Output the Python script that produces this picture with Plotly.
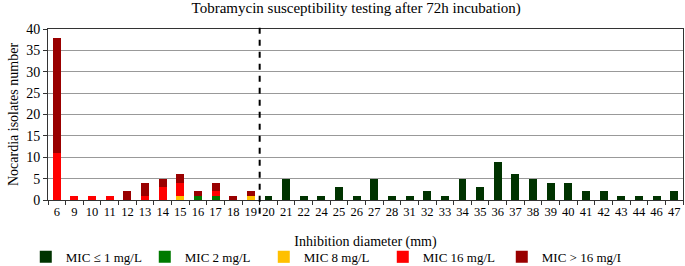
import plotly.graph_objects as go

diameters = ["6","9","10","11","12","13","14","15","16","17","18","19","20","21","22","24","25","26","27","28",
             "31","32","33","34","35","36","37","38","39","40","41","42","43","44","46","47"]
mic_le1 = [0,0,0,0,0,0,0,0,0,0,0,0, 1,5,1,1,3,1,5,1,1,2,1,5,3,9,6,5,4,4,2,2,1,1,1,2]
mic_2   = [0,0,0,0,0,0,0,0,1,1,0,0] + [0]*24
mic_8   = [0,0,0,0,0,0,0,1,0,0,0,1] + [0]*24
mic_16  = [11,1,1,1,0,1,3,3,0,1,0,0] + [0]*24
mic_gt16= [27,0,0,0,2,3,2,2,1,2,1,1] + [0]*24

series = [
    ("MIC \u2264 1 mg/L", mic_le1, "#003300"),
    ("MIC 2 mg/L", mic_2, "#007A00"),
    ("MIC 8 mg/L", mic_8, "#FFC000"),
    ("MIC 16 mg/L", mic_16, "#FF0000"),
    ("MIC > 16 mg/L", mic_gt16, "#990000"),
]

fig = go.Figure()
for name, vals, col in series:
    fig.add_trace(go.Bar(x=diameters, y=vals, name=name, marker=dict(color=col, line=dict(width=0))))

font = "Liberation Serif"
fig.update_layout(
    barmode="stack",
    bargap=0.55,
    width=685, height=266,
    margin=dict(l=48, r=2, t=29, b=66, autoexpand=False),
    plot_bgcolor="white", paper_bgcolor="white",
    font=dict(family=font, size=13, color="black"),
    title=dict(text="Tobramycin susceptibility testing after 72h incubation)", x=0.52, xanchor="center",
               y=0.97, yanchor="middle", font=dict(family=font, size=15)),
    legend=dict(orientation="h", x=-0.035, y=-0.245, xanchor="left", yanchor="top",
                entrywidth=74, itemwidth=30, tracegroupgap=0,
                font=dict(family=font, size=13), traceorder="normal"),
    showlegend=True,
)
fig.update_xaxes(type="category", tickfont=dict(size=12.5, family=font), tickson="boundaries", tickangle=0,
                 automargin=False,
                 showline=True, linecolor="#333", mirror=True, ticks="outside", ticklen=4, tickcolor="#333",
                 title=dict(text="Inhibition diameter (mm)", standoff=18, font=dict(size=14, family=font)))
fig.update_yaxes(range=[0, 40], dtick=5, showgrid=True, gridcolor="#999", gridwidth=1.2, automargin=False,
                 showline=True, linecolor="#333", mirror=True, ticks="outside", ticklen=4, tickcolor="#333",
                 tickfont=dict(size=14, family=font),
                 title=dict(text="Nocardia isolates number", standoff=4, font=dict(size=14, family=font)))
fig.add_shape(type="line", xref="x", yref="paper", x0=11.5, x1=11.5, y0=-0.08, y1=1.04,
              line=dict(color="black", width=2, dash="6px,6px"))
fig.write_html("out.html", config={"displayModeBar": False},
               post_script="document.body.style.margin='0';document.body.style.overflow='hidden';")
